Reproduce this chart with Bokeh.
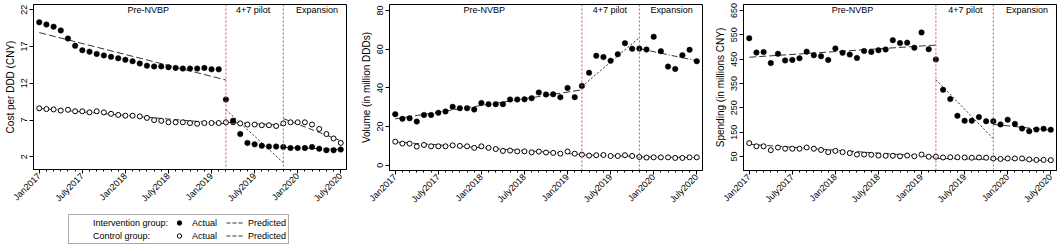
import math
from bokeh.plotting import figure
from bokeh.models import Range1d, FixedTicker, Span, Legend, LegendItem
from bokeh.layouts import row, column
from bokeh.embed import file_html
from bokeh.resources import INLINE
from bokeh.core.properties import value

# ---------------- data ----------------
months = list(range(43))  # Jan2017 .. July2020
tick_months = [0, 6, 12, 18, 24, 30, 36, 42]
tick_labels = ["Jan2017", "July2017", "Jan2018", "July2018",
               "Jan2019", "July2019", "Jan2020", "July2020"]

phase_bounds = [26, 34]          # start of 4+7 pilot, start of expansion
phase_names = ["Pre-NVBP", "4+7 pilot", "Expansion"]
phase_x = [[0, 26], [26, 34], [34, 42]]

cost_int = [20.3, 20.0, 19.7, 19.2, 18.1, 17.1, 16.5, 16.3, 16.0, 15.8,
            15.6, 15.4, 15.2, 15.0, 14.7, 14.4, 14.3, 14.3, 14.2, 14.1,
            14.0, 14.0, 14.0, 14.1, 13.9, 13.9, 9.8, 6.9, 5.1, 3.9,
            3.7, 3.5, 3.4, 3.4, 3.35, 3.2, 3.2, 3.2, 3.35, 3.1,
            2.9, 2.9, 3.0]
cost_ctrl = [8.6, 8.5, 8.45, 8.3, 8.4, 8.2, 8.2, 8.05, 8.2, 8.05,
             7.85, 7.7, 7.6, 7.6, 7.5, 7.3, 7.0, 6.9, 6.7, 6.7,
             6.7, 6.6, 6.5, 6.6, 6.6, 6.6, 6.7, 6.7, 6.55, 6.4,
             6.4, 6.3, 6.3, 6.2, 6.55, 6.7, 6.7, 6.7, 6.4, 5.8,
             5.1, 4.5, 3.9]
cost_int_pred = [[18.9, 12.45], [8.4, 1.2], [3.3, 3.0]]
cost_ctrl_pred = [[8.6, 6.5], [6.7, 6.3], [7.2, 4.2]]

vol_int = [26.4, 24.0, 24.3, 22.6, 26.0, 26.0, 27.1, 27.8, 30.2, 29.5,
           29.5, 28.8, 32.2, 31.6, 31.6, 31.6, 34.0, 34.0, 34.1, 34.7,
           37.6, 36.6, 36.7, 35.2, 40.0, 35.2, 41.0, 47.8, 56.6, 55.9,
           54.0, 57.4, 63.1, 60.2, 60.3, 59.8, 66.4, 59.0, 51.0, 49.8,
           56.9, 59.7, 53.8]
vol_ctrl = [12.2, 11.2, 11.2, 9.7, 10.5, 9.8, 9.8, 9.8, 10.3, 10.0,
            9.8, 9.0, 9.8, 9.0, 8.4, 7.4, 7.6, 7.2, 7.2, 6.7,
            7.1, 6.6, 6.4, 6.0, 7.1, 6.0, 5.5, 5.0, 5.2, 5.3,
            4.8, 4.8, 5.2, 4.8, 4.3, 4.0, 4.1, 4.1, 4.1, 3.8,
            3.8, 4.1, 4.1]
vol_int_pred = [[24.0, 39.0], [40.7, 66.0], [60.3, 54.0]]
vol_ctrl_pred = [[12.0, 5.6], [5.3, 4.6], [4.3, 4.0]]

spend_int = [536, 477, 479, 434, 472, 445, 447, 454, 481, 466,
             462, 447, 494, 476, 469, 455, 484, 480, 487, 490,
             528, 516, 518, 497, 560, 491, 449, 324, 286, 217,
             197, 197, 212, 195, 195, 182, 201, 184, 165, 154,
             161, 164, 160]
spend_ctrl = [105, 92, 92, 76, 87, 82, 82, 82, 87, 82,
              77, 68, 73, 68, 64, 58, 58, 57, 54, 53,
              53, 51, 54, 51, 58, 49, 49, 46, 47, 47,
              46, 45, 46, 45, 42, 40, 42, 42, 42, 38,
              36, 36, 35]
spend_int_pred = [[458, 508], [366, 123], [182, 158]]
spend_ctrl_pred = [[100, 48], [42, 38], [40, 33]]

FONT = "Liberation Sans"
LINE_COL = "#333333"
LEG_H = 37


def make_panel(ylabel, yr, yticks, int_vals, ctrl_vals, int_pred, ctrl_pred,
               int_dashes, label_x, left, right, height, bottom):
    width = left + 313 + right
    p = figure(width=width, height=height, x_range=Range1d(-0.8, 42.8),
               y_range=Range1d(*yr), output_backend="svg",
               toolbar_location=None, min_border_left=left,
               min_border_right=right, min_border_top=4,
               min_border_bottom=bottom)
    p.xgrid.visible = False
    p.ygrid.visible = False
    p.outline_line_color = "black"
    p.outline_line_alpha = 1
    p.outline_line_width = 1
    p.background_fill_color = "white"
    p.border_fill_color = "white"

    xa = p.xaxis[0]
    xa.ticker = FixedTicker(ticks=tick_months, minor_ticks=months)
    xa.major_label_overrides = {m: l for m, l in zip(tick_months, tick_labels)}
    xa.major_label_orientation = math.pi / 4
    xa.major_tick_out = 4
    xa.major_tick_in = 0
    xa.minor_tick_out = 2
    xa.minor_tick_in = 0
    xa.major_label_standoff = 1
    xa.major_label_text_font = FONT
    xa.major_label_text_font_size = "9px"
    xa.major_label_text_color = "black"
    xa.axis_line_color = "black"

    ya = p.yaxis[0]
    ya.ticker = FixedTicker(ticks=yticks)
    ya.major_label_orientation = "vertical"
    ya.major_tick_out = 4
    ya.major_tick_in = 0
    ya.minor_tick_out = 0
    ya.minor_tick_in = 0
    ya.major_label_standoff = 2
    ya.major_label_text_font = FONT
    ya.major_label_text_font_size = "9px"
    ya.major_label_text_color = "black"
    ya.axis_label = ylabel
    ya.axis_label_text_font = FONT
    ya.axis_label_text_font_size = "10px"
    ya.axis_label_text_font_style = "normal"
    ya.axis_label_text_color = "black"
    ya.axis_label_standoff = 3
    ya.axis_line_color = "black"

    for b in phase_bounds:
        p.add_layout(Span(location=b, dimension="height", line_color="#cc5555",
                          line_dash="2 2", line_width=1))

    for i in range(3):
        p.line(phase_x[i], ctrl_pred[i], line_color=LINE_COL,
               line_width=1, line_dash="6 3")
        p.line(phase_x[i], int_pred[i], line_color=LINE_COL,
               line_width=1, line_dash=int_dashes[i])

    p.scatter(months, ctrl_vals, size=5, fill_color="white",
              line_color="black", line_width=1)
    p.scatter(months, int_vals, size=5.5, fill_color="black",
              line_color="black", line_width=0.5)

    ytxt = yr[1] - 5.5 * (yr[1] - yr[0]) / 166
    p.text(x=label_x, y=[ytxt] * 3, text=phase_names, text_align="center",
           text_baseline="middle", text_font=value(FONT),
           text_font_size="9px", text_color="black")
    return p


def make_legend_fig(width):
    # a strip that only holds the shared legend; its ranges keep the
    # proxy renderers (drawn from the real series) out of view
    lf = figure(width=width, height=LEG_H, output_backend="svg",
                toolbar_location=None, x_axis_type=None, y_axis_type=None,
                x_range=Range1d(-200, -199), y_range=Range1d(-200, -199),
                min_border_left=0, min_border_right=0, min_border_top=0,
                min_border_bottom=0)
    lf.outline_line_color = None
    lf.xgrid.visible = False
    lf.ygrid.visible = False
    blank = lf.scatter(months, cost_int, size=1, fill_alpha=0, line_alpha=0)
    dot_i = lf.scatter(months, cost_int, size=4.5, fill_color="black",
                       line_color="black")
    dot_c = lf.scatter(months, cost_ctrl, size=4, fill_color="white",
                       line_color="black")
    ln_i = lf.line(phase_x[0], cost_int_pred[0], line_color=LINE_COL,
                   line_width=1, line_dash="4 2")
    ln_c = lf.line(phase_x[0], cost_ctrl_pred[0], line_color=LINE_COL,
                   line_width=1, line_dash="4 2")
    items = [
        LegendItem(label="Intervention group:", renderers=[blank]),
        LegendItem(label="Control group:", renderers=[blank]),
        LegendItem(label="Actual", renderers=[dot_i]),
        LegendItem(label="Actual", renderers=[dot_c]),
        LegendItem(label="Predicted", renderers=[ln_i]),
        LegendItem(label="Predicted", renderers=[ln_c]),
    ]
    leg = Legend(items=items, orientation="vertical", nrows=2,
                 location=(35, 3), glyph_width=18, glyph_height=11,
                 label_height=11, label_width=32, label_standoff=4,
                 spacing=2, padding=2, margin=0, label_text_font=FONT,
                 label_text_font_size="9px", label_text_color="black",
                 border_line_color="#555555", border_line_width=1,
                 background_fill_alpha=1)
    lf.add_layout(leg, "center")
    return lf


p1 = make_panel("Cost per DDD (CNY)", (0.28, 22.72), [2, 7, 12, 17, 22],
                cost_int, cost_ctrl, cost_int_pred, cost_ctrl_pred,
                ["7 3", "2 2", "7 3"], [15.2, 29.8, 38.7], 33, 7,
                247 - LEG_H, 77 - LEG_H)
p2 = make_panel("Volume (in million DDDs)", (-2.7, 83.1), [0, 20, 40, 60, 80],
                vol_int, vol_ctrl, vol_int_pred, vol_ctrl_pred,
                ["7 3", "2 2", "6 2 1 2"], [12.4, 29.9, 38.5], 36, 4, 247, 77)
p3 = make_panel("Spending (in millions CNY)", (-7.5, 674.7),
                [50, 150, 250, 350, 450, 550, 650],
                spend_int, spend_ctrl, spend_int_pred, spend_ctrl_pred,
                ["7 3", "2 2", "7 3"], [14.4, 30.1, 38.7], 37, 3, 247, 77)

leg_fig = make_legend_fig(353)
layout = row(column(p1, leg_fig, spacing=0), p2, p3, spacing=0)
open("out.html", "w").write(file_html(layout, INLINE))
